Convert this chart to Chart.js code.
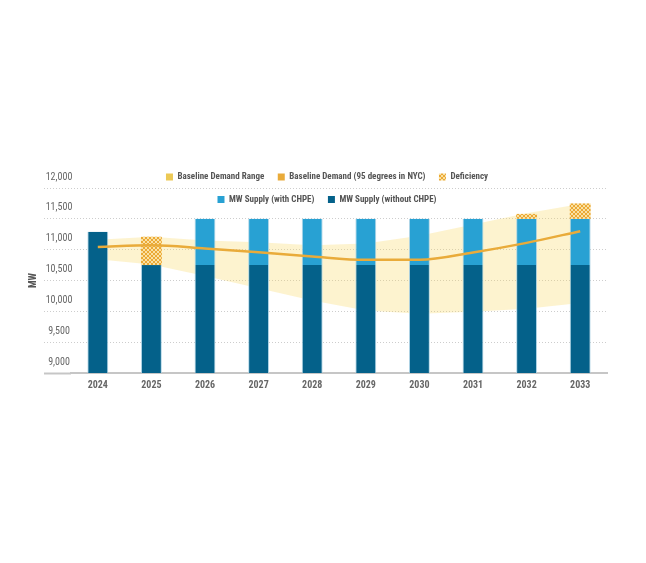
<!DOCTYPE html>
<html>
<head>
<meta charset="utf-8">
<script src="https://cdn.jsdelivr.net/npm/chart.js@4.4.1/dist/chart.umd.min.js"></script>
<style>
  html, body { margin: 0; padding: 0; background: #ffffff; }
  #wrap { position: relative; width: 646px; height: 563px; }
</style>
</head>
<body>
<div id="wrap"><canvas id="c"></canvas></div>
<script>
// ---------------- data ----------------
const YEARS = ['2024', '2025', '2026', '2027', '2028', '2029', '2030', '2031', '2032', '2033'];
const SUPPLY_WITHOUT_CHPE = [11290, 10750, 10750, 10750, 10750, 10750, 10750, 10750, 10750, 10750];
const CHPE_ADDITION      = [0, 0, 750, 750, 750, 750, 750, 750, 750, 750];
const DEFICIENCY         = [0, 460, 0, 0, 0, 0, 0, 0, 80, 250];
const DEMAND_95          = [11045, 11070, 11020, 10960, 10890, 10835, 10835, 10955, 11110, 11300];
const RANGE_HIGH         = [11160, 11210, 11150, 11120, 11070, 11100, 11225, 11410, 11590, 11740];
const RANGE_LOW          = [10845, 10760, 10575, 10375, 10175, 10015, 9960, 9995, 10040, 10135];
const Y_MIN = 9000, Y_MAX = 12000, Y_STEP = 500;

const LABELS = {
  range: 'Baseline Demand Range',
  demand: 'Baseline Demand (95 degrees in NYC)',
  deficiency: 'Deficiency',
  withChpe: 'MW Supply (with CHPE)',
  withoutChpe: 'MW Supply (without CHPE)',
  rangeLow: 'Baseline Demand Range (low)'
};

// ---------------- styles ----------------
const COND = "'Roboto Condensed', 'DejaVu Sans Condensed', sans-serif";
const C_DARK = '#04618a';
const C_LIGHT = '#28a1d3';
const C_DEMAND = '#e9ab3a';
const C_RANGE_FILL = 'rgba(250, 214, 96, 0.30)';
const C_RANGE_BOX = '#ecc955';
const C_GRID = '#cdcdcd';
const C_AXIS = '#c6c6c6';

function makeHatch() {
  const c = document.createElement('canvas');
  c.width = 4; c.height = 4;
  const g = c.getContext('2d');
  g.fillStyle = '#fae1a4';
  g.fillRect(0, 0, 4, 4);
  g.strokeStyle = '#eba935';
  g.lineWidth = 1;
  g.beginPath();
  g.moveTo(0, 0); g.lineTo(4, 4);
  g.moveTo(4, 0); g.lineTo(0, 4);
  g.stroke();
  return g.createPattern(c, 'repeat');
}
const HATCH = makeHatch();

// floating bar segments built from the arrays
const segWithout = SUPPLY_WITHOUT_CHPE.map(v => v);
const segWith = SUPPLY_WITHOUT_CHPE.map((b, i) => CHPE_ADDITION[i] > 0 ? [b, b + CHPE_ADDITION[i]] : null);
const segDef = SUPPLY_WITHOUT_CHPE.map((b, i) => {
  const base = b + CHPE_ADDITION[i];
  return DEFICIENCY[i] > 0 ? [base, base + DEFICIENCY[i]] : null;
});

// text measurement helpers
const mctx = document.createElement('canvas').getContext('2d');
function textW(str, font) { mctx.font = font; return mctx.measureText(str).width; }

// y tick label geometry
const Y_TICK_FONT = { family: COND, size: 10, weight: 'normal' };
const WIDEST = textW('12,000', 'normal 10px ' + COND);
const Y_AXIS_W = 48;
const TICK_LEN = 27;
const LABEL_CENTER_X_OFFSET = -12;   // label centre relative to plot left edge
const Y_TICK_PAD = LABEL_CENTER_X_OFFSET - WIDEST / 2;

// legend geometry (two rows, overlaid on the top of the plot)
const LEG_FONT_SIZE = 9;
const LEG_BOX = 7;
const LEG_PAD = 13.5;
const legFont = 'bold ' + LEG_FONT_SIZE + 'px ' + COND;
const legItemW = s => LEG_BOX + LEG_FONT_SIZE / 2 + textW(s, legFont);
const row1W = legItemW(LABELS.range) + legItemW(LABELS.demand) + legItemW(LABELS.deficiency) + 3 * LEG_PAD;
const LEGEND_WRAP = row1W + LEG_PAD + 25;
const LEGEND_CENTER_X = 327;
const LEGEND_TOP = 159;

const legendPlace = {
  id: 'legendPlace',
  beforeLayout(chart) {
    const lg = chart.legend;
    if (!lg || lg.__patched) return;
    lg.__patched = true;
    const protoFit = Object.getPrototypeOf(lg).fit;
    lg.fit = function () {
      this.maxWidth = LEGEND_WRAP;
      protoFit.call(this);
      this.__h = this.height;
      this.height = 0;
    };
  },
  afterLayout(chart) {
    const lg = chart.legend;
    if (!lg) return;
    lg.left = LEGEND_CENTER_X - LEGEND_WRAP / 2;
    lg.right = LEGEND_CENTER_X + LEGEND_WRAP / 2;
    lg.width = LEGEND_WRAP;
    lg.top = LEGEND_TOP;
    lg.height = lg.__h || 0;
    lg.bottom = lg.top + lg.height;
  }
};

const LEGEND_FILL = {};
LEGEND_FILL[LABELS.range] = C_RANGE_BOX;
LEGEND_FILL[LABELS.demand] = C_DEMAND;
LEGEND_FILL[LABELS.deficiency] = HATCH;
LEGEND_FILL[LABELS.withChpe] = C_LIGHT;
LEGEND_FILL[LABELS.withoutChpe] = C_DARK;

const barCommon = {
  type: 'bar',
  barPercentage: 0.39,
  categoryPercentage: 1.0,
  borderWidth: { left: 1, right: 1, top: 0, bottom: 0 },
  borderColor: 'rgba(170, 210, 228, 0.9)',
  borderSkipped: false
};

const datasets = [
  {
    type: 'line', label: LABELS.range, data: RANGE_HIGH,
    borderWidth: 0, borderColor: 'rgba(0,0,0,0)', backgroundColor: C_RANGE_FILL,
    pointRadius: 0, tension: 0, fill: 5
  },
  {
    type: 'line', label: LABELS.demand, data: DEMAND_95,
    borderColor: C_DEMAND, backgroundColor: C_DEMAND, borderWidth: 2.5,
    pointRadius: 0, cubicInterpolationMode: 'monotone', fill: false
  },
  Object.assign({}, barCommon, { label: LABELS.deficiency, data: segDef, backgroundColor: HATCH, borderColor: 'rgba(0,0,0,0)', borderWidth: 0 }),
  Object.assign({}, barCommon, { label: LABELS.withChpe, data: segWith, backgroundColor: C_LIGHT }),
  Object.assign({}, barCommon, { label: LABELS.withoutChpe, data: segWithout, backgroundColor: C_DARK }),
  {
    type: 'line', label: LABELS.rangeLow, data: RANGE_LOW,
    borderWidth: 0, borderColor: 'rgba(0,0,0,0)', backgroundColor: 'rgba(0,0,0,0)',
    pointRadius: 0, tension: 0, fill: false
  }
];

const chart = new Chart(document.getElementById('c'), {
  data: { labels: YEARS, datasets },
  plugins: [legendPlace],
  options: {
    responsive: true,
    maintainAspectRatio: false,
    animation: false,
    layout: { padding: { left: 23, right: 39, top: 188, bottom: 168 } },
    plugins: {
      filler: { drawTime: 'beforeDatasetsDraw' },
      tooltip: { enabled: false },
      legend: {
        position: 'top',
        align: 'center',
        labels: {
          boxWidth: LEG_BOX,
          boxHeight: LEG_BOX,
          padding: LEG_PAD,
          color: '#555555',
          font: { family: COND, size: LEG_FONT_SIZE, weight: 'bold' },
          generateLabels(ch) {
            const items = Chart.defaults.plugins.legend.labels.generateLabels(ch);
            return items
              .filter(it => it.text !== LABELS.rangeLow)
              .map(it => Object.assign(it, {
                fillStyle: LEGEND_FILL[it.text],
                strokeStyle: 'rgba(0,0,0,0)',
                lineWidth: 0
              }));
          }
        }
      }
    },
    scales: {
      x: {
        type: 'category',
        stacked: true,
        offset: true,
        grid: { display: false, drawTicks: false },
        border: { display: true, color: C_AXIS, width: 2 },
        ticks: {
          color: '#666666',
          font: { family: COND, size: 10, weight: 'bold' },
          padding: 6,
          maxRotation: 0
        },
        afterFit(s) { s.height = 22; }
      },
      y: {
        type: 'linear',
        stacked: false,
        min: Y_MIN,
        max: Y_MAX,
        ticks: {
          stepSize: Y_STEP,
          color: '#666666',
          font: Y_TICK_FONT,
          mirror: true,
          crossAlign: 'center',
          padding: Y_TICK_PAD,
          labelOffset: -11,
          callback: v => Number(v).toLocaleString('en-US')
        },
        grid: {
          color: C_GRID,
          lineWidth: 1,
          drawTicks: true,
          tickLength: TICK_LEN,
          tickColor: c => (c.tick && c.tick.value === Y_MIN) ? C_AXIS : C_GRID,
          tickWidth: c => (c.tick && c.tick.value === Y_MIN) ? 2 : 1,
          tickBorderDash: c => (c.tick && c.tick.value === Y_MIN) ? [] : [1, 2]
        },
        border: { display: false, dash: [1, 2] },
        title: {
          display: true,
          text: 'MW',
          color: '#555555',
          font: { family: COND, size: 10, weight: 'bold' },
          padding: { top: 4, bottom: 4 }
        },
        afterFit(s) { s.width = Y_AXIS_W; }
      }
    }
  }
});
</script>
</body>
</html>
